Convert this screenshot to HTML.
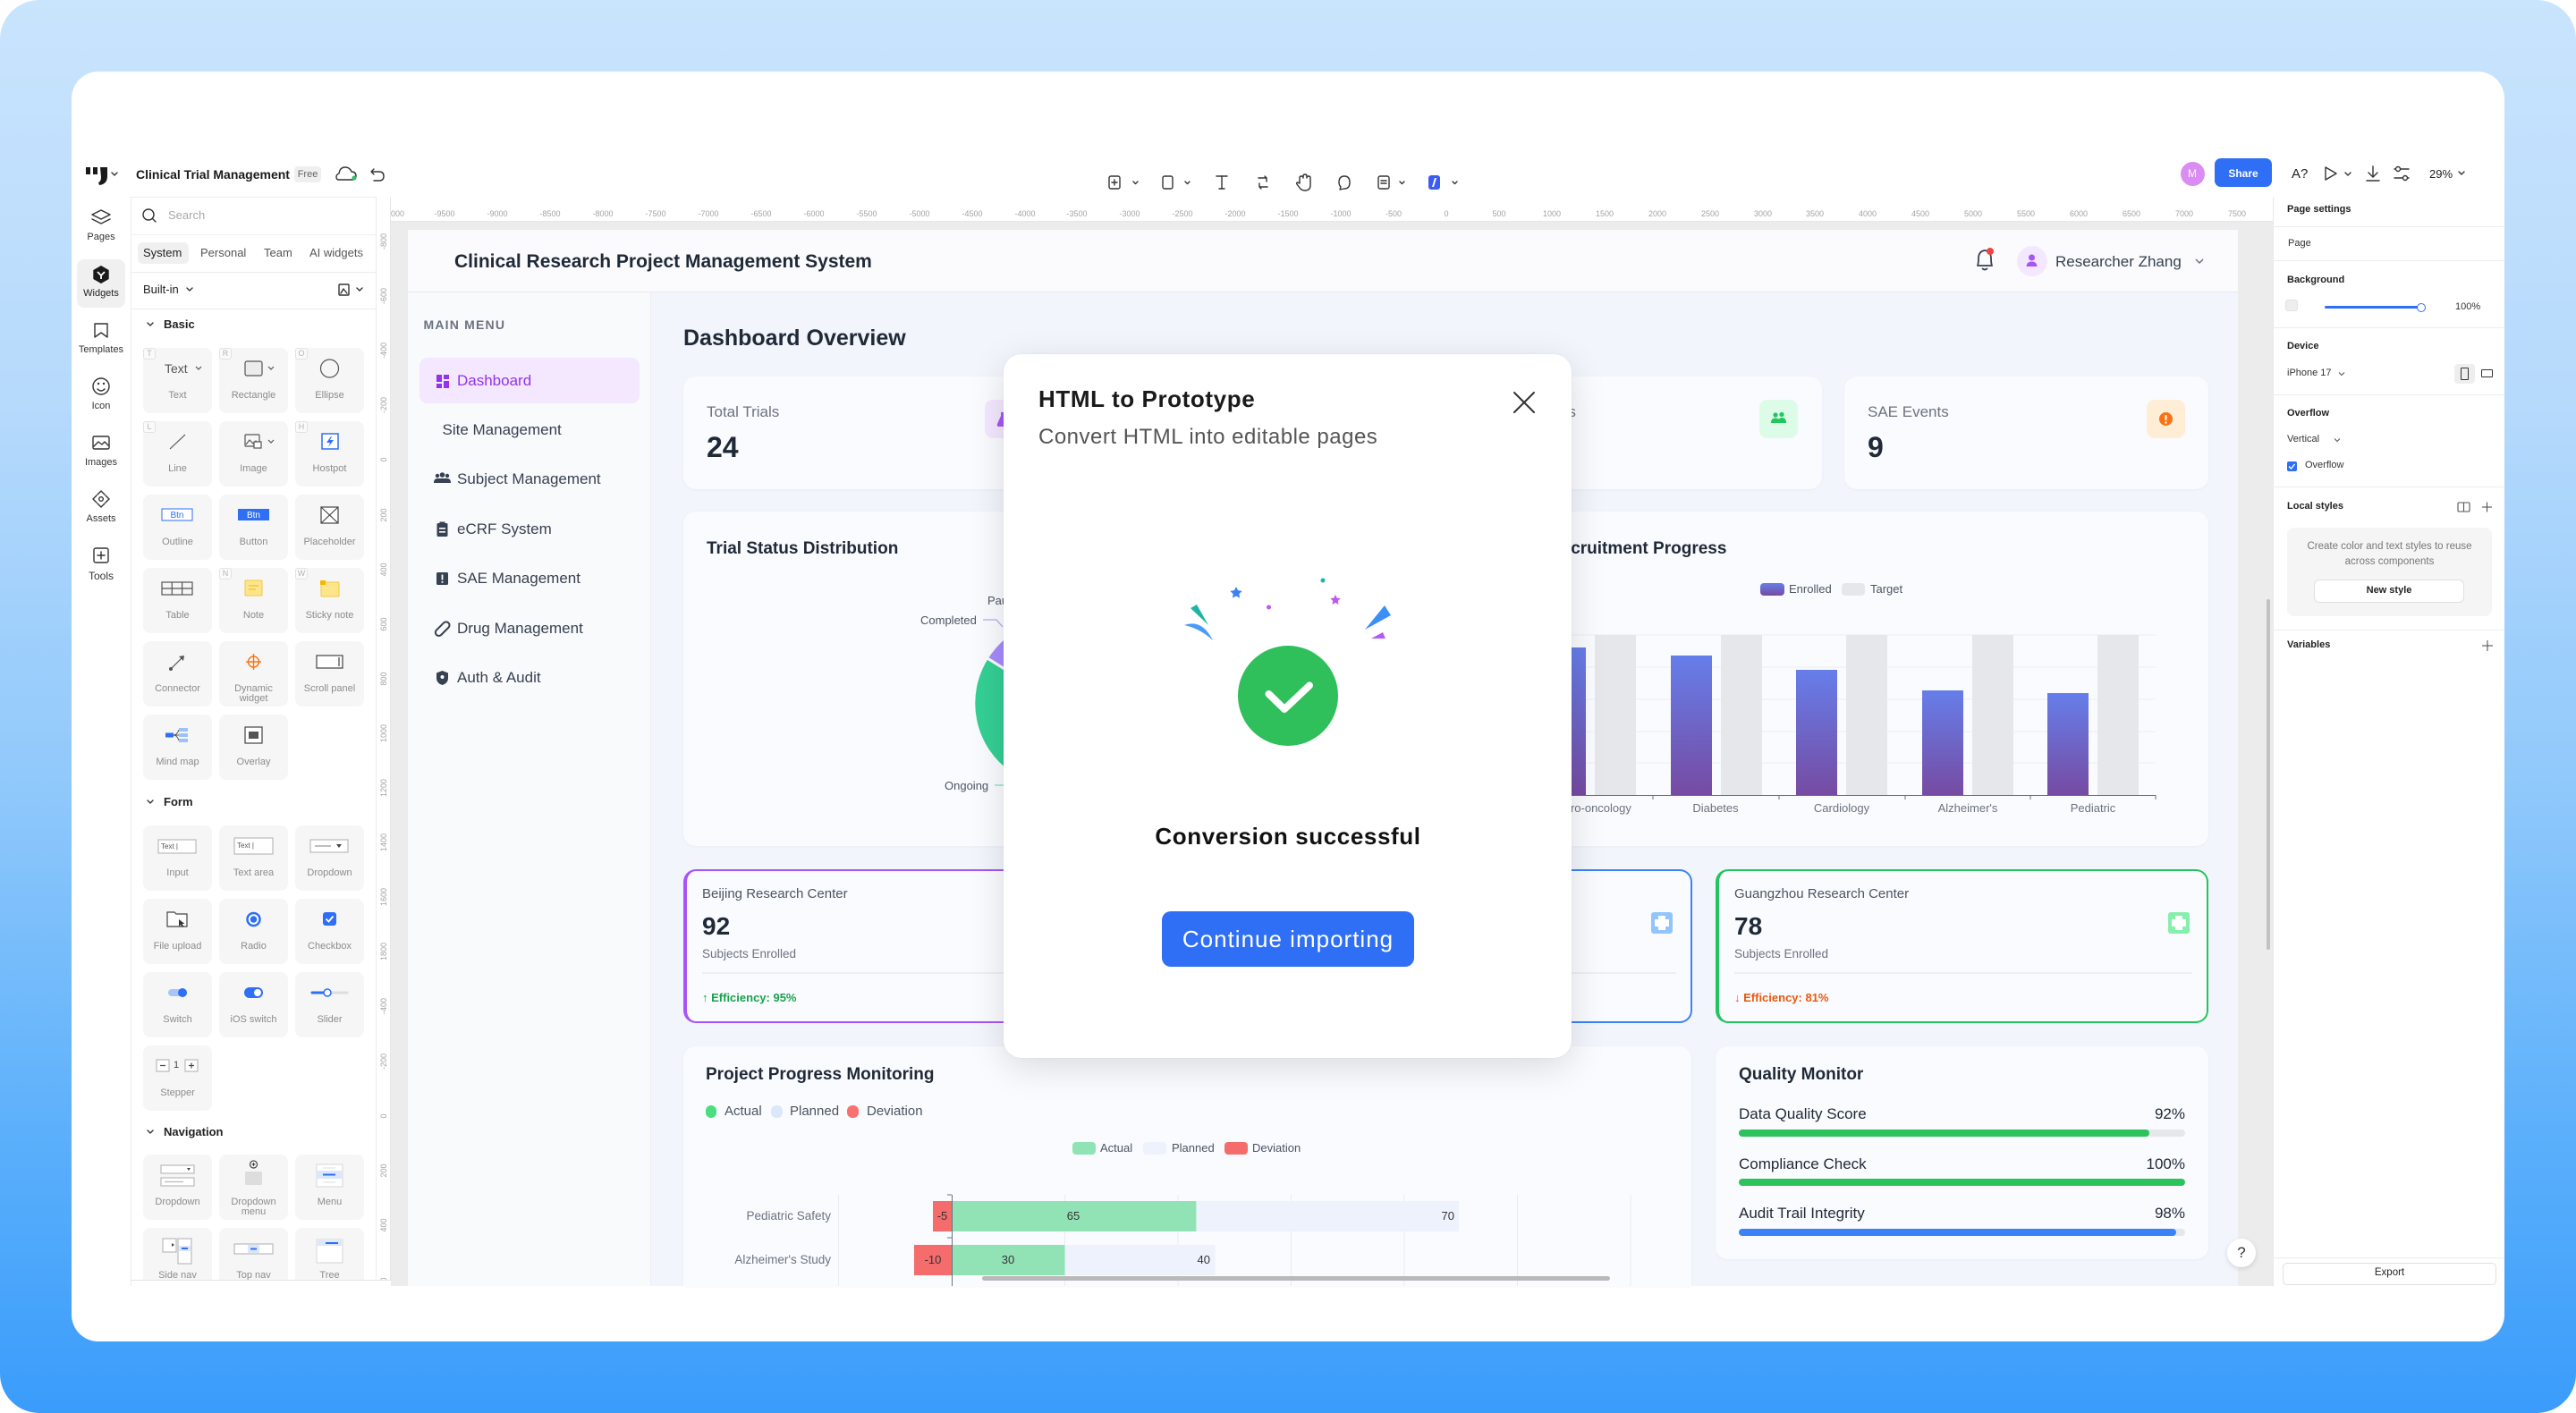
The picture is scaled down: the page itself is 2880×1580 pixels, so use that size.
<!DOCTYPE html>
<html><head><meta charset="utf-8">
<style>
*{box-sizing:border-box}
body{margin:0;background:#fff}
#r{position:relative;width:2880px;height:1580px;overflow:hidden;font-family:"Liberation Sans",Arial,sans-serif;color:#1f2937}
.a{position:absolute}
.t{position:absolute;white-space:nowrap;line-height:1}
.b{font-weight:700}
.card{position:absolute;background:#fafbfe;border-radius:14px;box-shadow:0 1px 3px rgba(30,40,90,0.04)}
.wc{position:absolute;width:77px;height:73px;background:#f6f6f6;border-radius:8px}
.wl{position:absolute;width:77px;text-align:center;font-size:11px;line-height:11px;color:#8c8c8c;white-space:nowrap}
.bd{position:absolute;width:14px;height:13px;border:1px solid #e2e2e2;border-radius:3px;background:#fafafa;font-size:9px;line-height:11px;text-align:center;color:#b5b5b5}
.rl{position:absolute;top:5px;width:50px;text-align:center;font-size:9px;line-height:9px;color:#a3a3a3}
.vl{position:absolute;left:-12px;width:40px;height:10px;line-height:10px;font-size:9px;color:#a3a3a3;text-align:center;transform:rotate(-90deg)}
.mi{font-size:17px;color:#374151}
.rp{font-size:11px;color:#333}
.rh{font-size:11px;font-weight:700;color:#222}
.hr{position:absolute;left:2541px;width:259px;height:1px;background:#ededed}
</style></head><body>
<div id="r">
<!-- background -->
<div class="a" style="left:0;top:0;width:2880px;height:1580px;border-radius:44px;background:linear-gradient(180deg,#c9e4fd 0%,#b6dafc 28%,#91c9fb 55%,#5cb0fb 80%,#3a9cfb 100%)"></div>
<div class="a" style="left:80px;top:80px;width:2720px;height:1420px;border-radius:30px;background:#fff"></div>

<!-- canvas -->
<div class="a" style="left:437px;top:230px;width:2104px;height:1208px;background:#ececec"></div>

<!-- artboard -->
<div class="a" style="left:456px;top:257px;width:2046px;height:1181px;background:#f2f5fc"></div>
<div class="a" style="left:456px;top:257px;width:2046px;height:70px;background:#fbfbfd;border-bottom:1.5px solid #e7e9ee"></div>
<div class="a" style="left:456px;top:327px;width:272px;height:1111px;background:#f9fafb;border-right:1.5px solid #eceef2"></div>

<!-- header -->
<div class="t b" style="left:508px;top:281.6px;font-size:21px;color:#1f2937">Clinical Research Project Management System</div>
<div class="t" style="left:2298px;top:283.7px;font-size:17px;color:#374151">Researcher Zhang</div>
<div class="a" style="left:2254.5px;top:275px;width:34px;height:34px;border-radius:50%;background:#f3e8ff"></div>

<!-- sidebar -->
<div class="t b" style="left:473.5px;top:355.7px;font-size:14px;letter-spacing:1.2px;color:#6b7280">MAIN MENU</div>
<div class="a" style="left:469px;top:400px;width:245.5px;height:51px;border-radius:9px;background:#f3e8ff"></div>
<div class="t" style="left:511px;top:417.2px;font-size:17px;color:#9333ea">Dashboard</div>
<div class="t mi" style="left:494.5px;top:472.2px">Site Management</div>
<div class="t mi" style="left:511px;top:527.2px">Subject Management</div>
<div class="t mi" style="left:511px;top:583.2px">eCRF System</div>
<div class="t mi" style="left:511px;top:638.2px">SAE Management</div>
<div class="t mi" style="left:511px;top:694.2px">Drug Management</div>
<div class="t mi" style="left:511px;top:749.2px">Auth &amp; Audit</div>

<!-- main -->
<div class="t b" style="left:764px;top:366px;font-size:25px;color:#1f2937">Dashboard Overview</div>

<div class="card" style="left:764px;top:421px;width:407px;height:126px"></div>
<div class="card" style="left:1197px;top:421px;width:407px;height:126px"></div>
<div class="card" style="left:1630px;top:421px;width:407px;height:126px"></div>
<div class="card" style="left:2062px;top:421px;width:407px;height:126px"></div>
<div class="t" style="left:790px;top:452.2px;font-size:17px;color:#6b7280">Total Trials</div>
<div class="t b" style="left:790px;top:484.4px;font-size:32px;color:#1f2937">24</div>
<div class="t" style="left:1223px;top:452.2px;font-size:17px;color:#6b7280">Active Sites</div>
<div class="t b" style="left:1223px;top:484.4px;font-size:32px;color:#1f2937">12</div>
<div class="t" style="left:1656px;top:452.2px;font-size:17px;color:#6b7280">Total Subjects</div>
<div class="t b" style="left:1656px;top:484.4px;font-size:32px;color:#1f2937">342</div>
<div class="t" style="left:2088px;top:452.2px;font-size:17px;color:#6b7280">SAE Events</div>
<div class="t b" style="left:2088px;top:484.4px;font-size:32px;color:#1f2937">9</div>
<div class="a" style="left:1101px;top:447px;width:43px;height:43px;border-radius:9px;background:#f3e8ff"></div>
<div class="a" style="left:1497px;top:447px;width:43px;height:43px;border-radius:9px;background:#dbeafe"></div>
<div class="a" style="left:1967px;top:447px;width:43px;height:43px;border-radius:9px;background:#dcfce7"></div>
<div class="a" style="left:2400px;top:447px;width:43px;height:43px;border-radius:9px;background:#ffedd5"></div>

<div class="card" style="left:764px;top:572px;width:839px;height:374px"></div>
<div class="card" style="left:1630px;top:572px;width:839px;height:374px"></div>
<div class="t b" style="left:790px;top:604.1px;font-size:19px;color:#1f2937">Trial Status Distribution</div>
<div class="t b" style="left:1658px;top:604.1px;font-size:19px;color:#1f2937">Subject Recruitment Progress</div>
<div class="t" style="left:2000px;top:652.2px;font-size:13px;color:#4b5563">Enrolled</div>
<div class="t" style="left:2091px;top:652.2px;font-size:13px;color:#4b5563">Target</div>
<div class="t" style="left:1718px;top:897.2px;width:120px;text-align:center;font-size:13px;color:#6b7280">Neuro-oncology</div>
<div class="t" style="left:1858px;top:897.2px;width:120px;text-align:center;font-size:13px;color:#6b7280">Diabetes</div>
<div class="t" style="left:1999px;top:897.2px;width:120px;text-align:center;font-size:13px;color:#6b7280">Cardiology</div>
<div class="t" style="left:2140px;top:897.2px;width:120px;text-align:center;font-size:13px;color:#6b7280">Alzheimer's</div>
<div class="t" style="left:2280px;top:897.2px;width:120px;text-align:center;font-size:13px;color:#6b7280">Pediatric</div>
<div class="t" style="left:1029px;top:687.2px;font-size:13px;color:#4b5563">Completed</div>
<div class="t" style="left:1104px;top:665.2px;font-size:13px;color:#4b5563">Paused</div>
<div class="t" style="left:1056px;top:872.2px;font-size:13px;color:#4b5563">Ongoing</div>

<!-- site cards -->
<div class="a" style="left:764px;top:972px;width:551px;height:172px;border-radius:14px;background:#fafbfe;border:2px solid #a855f7;border-left-width:4px"></div>
<div class="a" style="left:1341px;top:972px;width:551px;height:172px;border-radius:14px;background:#fafbfe;border:2px solid #3b82f6;border-left-width:4px"></div>
<div class="a" style="left:1918px;top:972px;width:551px;height:172px;border-radius:14px;background:#fafbfe;border:2px solid #22c55e;border-left-width:4px"></div>
<div class="t" style="left:785px;top:992.2px;font-size:15px;color:#4b5563">Beijing Research Center</div>
<div class="t b" style="left:785px;top:1022.4px;font-size:28px;color:#1f2937">92</div>
<div class="t" style="left:785px;top:1060px;font-size:13.5px;color:#6b7280">Subjects Enrolled</div>
<div class="a" style="left:785px;top:1087px;width:511px;height:2px;background:#eceef2"></div>
<div class="t b" style="left:785px;top:1109.2px;font-size:13px;color:#16a34a">↑ Efficiency: 95%</div>
<div class="t" style="left:1362px;top:992.2px;font-size:15px;color:#4b5563">Shanghai Research Center</div>
<div class="t b" style="left:1362px;top:1022.4px;font-size:28px;color:#1f2937">85</div>
<div class="t" style="left:1362px;top:1060px;font-size:13.5px;color:#6b7280">Subjects Enrolled</div>
<div class="a" style="left:1362px;top:1087px;width:512px;height:2px;background:#eceef2"></div>
<div class="t b" style="left:1362px;top:1109.2px;font-size:13px;color:#16a34a">↑ Efficiency: 88%</div>
<div class="t" style="left:1939px;top:992.2px;font-size:15px;color:#4b5563">Guangzhou Research Center</div>
<div class="t b" style="left:1939px;top:1022.4px;font-size:28px;color:#1f2937">78</div>
<div class="t" style="left:1939px;top:1060px;font-size:13.5px;color:#6b7280">Subjects Enrolled</div>
<div class="a" style="left:1939px;top:1087px;width:512px;height:2px;background:#eceef2"></div>
<div class="t b" style="left:1939px;top:1109.2px;font-size:13px;color:#ea580c">↓ Efficiency: 81%</div>
<div class="a" style="left:1268px;top:1020px;width:24px;height:24px;border-radius:3px;background:#d8b4fe"></div>
<div class="a" style="left:1846px;top:1020px;width:24px;height:24px;border-radius:3px;background:#93c5fd"></div>
<div class="a" style="left:2424px;top:1020px;width:24px;height:24px;border-radius:3px;background:#86efac"></div>
<div class="a" style="left:1854px;top:1024px;width:8px;height:16px;background:#fff"></div>
<div class="a" style="left:1850px;top:1028px;width:16px;height:8px;background:#fff"></div>
<div class="a" style="left:2432px;top:1024px;width:8px;height:16px;background:#fff"></div>
<div class="a" style="left:2428px;top:1028px;width:16px;height:8px;background:#fff"></div>

<!-- bottom cards -->
<div class="card" style="left:764px;top:1170px;width:1127px;height:268px;border-bottom-left-radius:0;border-bottom-right-radius:0"></div>
<div class="card" style="left:1918px;top:1170px;width:551px;height:238px"></div>
<div class="t b" style="left:789px;top:1192.1px;font-size:19px;color:#1f2937">Project Progress Monitoring</div>
<div class="a" style="left:788.5px;top:1236px;width:12.5px;height:14px;border-radius:6px;background:#4ade80"></div>
<div class="t" style="left:810px;top:1235.2px;font-size:15px;color:#4b5563">Actual</div>
<div class="a" style="left:862px;top:1236px;width:12.5px;height:14px;border-radius:6px;background:#dbe7fb"></div>
<div class="t" style="left:883px;top:1235.2px;font-size:15px;color:#4b5563">Planned</div>
<div class="a" style="left:947px;top:1236px;width:12.5px;height:14px;border-radius:6px;background:#f87171"></div>
<div class="t" style="left:969px;top:1235.2px;font-size:15px;color:#4b5563">Deviation</div>
<div class="a" style="left:1199px;top:1277px;width:26px;height:14px;border-radius:4px;background:#8fe3b5"></div>
<div class="t" style="left:1230px;top:1277.2px;font-size:13px;color:#4b5563">Actual</div>
<div class="a" style="left:1278px;top:1277px;width:26px;height:14px;border-radius:4px;background:#eef2fd"></div>
<div class="t" style="left:1310px;top:1277.2px;font-size:13px;color:#4b5563">Planned</div>
<div class="a" style="left:1369px;top:1277px;width:26px;height:14px;border-radius:4px;background:#f56c6c"></div>
<div class="t" style="left:1400px;top:1277.2px;font-size:13px;color:#4b5563">Deviation</div>

<div class="t b" style="left:1944px;top:1192.1px;font-size:19px;color:#1f2937">Quality Monitor</div>
<div class="t" style="left:1944px;top:1237.2px;font-size:17px;color:#1f2937">Data Quality Score</div>
<div class="t" style="left:2343px;top:1237.2px;width:100px;text-align:right;font-size:17px;color:#1f2937">92%</div>
<div class="a" style="left:1944px;top:1263px;width:499px;height:8px;border-radius:4px;background:#e5e7eb"></div>
<div class="a" style="left:1944px;top:1263px;width:459px;height:8px;border-radius:4px;background:#2cc25c"></div>
<div class="t" style="left:1944px;top:1293.2px;font-size:17px;color:#1f2937">Compliance Check</div>
<div class="t" style="left:2343px;top:1293.2px;width:100px;text-align:right;font-size:17px;color:#1f2937">100%</div>
<div class="a" style="left:1944px;top:1318px;width:499px;height:8px;border-radius:4px;background:#2cc25c"></div>
<div class="t" style="left:1944px;top:1348.2px;font-size:17px;color:#1f2937">Audit Trail Integrity</div>
<div class="t" style="left:2343px;top:1348.2px;width:100px;text-align:right;font-size:17px;color:#1f2937">98%</div>
<div class="a" style="left:1944px;top:1374px;width:499px;height:8px;border-radius:4px;background:#e5e7eb"></div>
<div class="a" style="left:1944px;top:1374px;width:489px;height:8px;border-radius:4px;background:#3b82f6"></div>

<!-- artboard graphics -->
<svg class="a" style="left:0;top:0" width="2880" height="1580" viewBox="0 0 2880 1580">
<defs><linearGradient id="eg" x1="0" y1="0" x2="0" y2="1"><stop offset="0" stop-color="#667eea"/><stop offset="1" stop-color="#764ba2"/></linearGradient></defs>
<path d="M2211,297 Q2212,294 2212,289 Q2212,281 2219,280 Q2226,281 2226,289 Q2226,294 2227,297 Z" fill="none" stroke="#374151" stroke-width="1.8" stroke-linejoin="round"/>
<path d="M2216,300 Q2219,303 2222,300" fill="none" stroke="#374151" stroke-width="1.8"/>
<circle cx="2225" cy="281" r="4" fill="#ef4444"/>
<circle cx="2271.5" cy="288" r="3.5" fill="#a855f7"/>
<path d="M2265.5,298 Q2266,292.5 2271.5,292.5 Q2277,292.5 2277.5,298 Z" fill="#a855f7"/>
<polyline points="2455,290 2459,294 2463,290" fill="none" stroke="#6b7280" stroke-width="1.5"/>
<rect x="488" y="419" width="6" height="8" fill="#9333ea"/><rect x="496" y="419" width="6" height="5" fill="#9333ea"/><rect x="488" y="429" width="6" height="5" fill="#9333ea"/><rect x="496" y="426" width="6" height="8" fill="#9333ea"/>
<circle cx="489" cy="532" r="2.2" fill="#374151"/><circle cx="494.5" cy="531" r="2.8" fill="#374151"/><circle cx="500" cy="532" r="2.2" fill="#374151"/>
<path d="M485,540 Q485,535 489,535 L500,535 Q504,535 504,540 Z" fill="#374151"/>
<rect x="488.5" y="585" width="12" height="15" rx="1.5" fill="#374151"/><rect x="491.5" y="583.5" width="6" height="3" fill="#374151"/><rect x="491" y="590" width="7" height="1.6" fill="#fff"/><rect x="491" y="594" width="7" height="1.6" fill="#fff"/>
<rect x="488" y="640" width="13" height="14" rx="1.5" fill="#374151"/><rect x="493.6" y="642.5" width="1.8" height="6" fill="#fff"/><rect x="493.6" y="650" width="1.8" height="1.8" fill="#fff"/>
<rect x="485" y="699.5" width="19" height="7.5" rx="3.75" transform="rotate(-45 494.5 703)" fill="none" stroke="#374151" stroke-width="2"/>
<path d="M494.5,750 L501,752.5 L501,758 Q501,764 494.5,766 Q488,764 488,758 L488,752.5 Z" fill="#374151"/><circle cx="494.5" cy="757" r="2" fill="#fff"/>
<path d="M1119,461 h7 v4 l4,9 q1,3 -2,3 h-11 q-3,0 -2,-3 l4,-9 z" fill="#a855f7"/>
<circle cx="1985" cy="464" r="2.6" fill="#22c55e"/><circle cx="1992" cy="463.5" r="2.6" fill="#22c55e"/>
<path d="M1980,473 Q1980,467.5 1985,467.5 Q1990,467.5 1990,473 Z M1988,473 Q1988,467 1992,467 Q1997,467 1997,473 Z" fill="#22c55e"/>
<path d="M1513,461 h13 v3 h-13 z M1515,465 h9 v11 h-9 z" fill="#3b82f6"/>
<circle cx="2421.5" cy="468.5" r="7.5" fill="#f97316"/><rect x="2420.5" y="464" width="2" height="6" fill="#fff"/><rect x="2420.5" y="471.5" width="2" height="2" fill="#fff"/>
<g stroke="#fafbfe" stroke-width="3" stroke-linejoin="round">
<path d="M1184,786 L1136.5,703.7 A95,95 0 0 1 1258.9,844.5 Z" fill="#60a5fa"/>
<path d="M1184,786 L1258.9,844.5 A95,95 0 0 1 1103.4,735.7 Z" fill="#34cf94"/>
<path d="M1184,786 L1103.4,735.7 A97,97 0 0 1 1122.9,713.2 Z" fill="#a78bfa"/>
<path d="M1184,786 L1122.9,713.2 A95,95 0 0 1 1136.5,703.7 Z" fill="#fbbf24"/>
</g>
<polyline points="1099,693 1114,693 1121,701" fill="none" stroke="#b8a6f6" stroke-width="1.3"/>
<polyline points="1112,878 1124,878" fill="none" stroke="#84e1b8" stroke-width="1.3"/>
<g stroke="#eceef3" stroke-width="1"><line x1="1707" y1="710" x2="2410" y2="710"/><line x1="1707" y1="746" x2="2410" y2="746"/><line x1="1707" y1="782" x2="2410" y2="782"/><line x1="1707" y1="818" x2="2410" y2="818"/><line x1="1707" y1="853" x2="2410" y2="853"/></g>
<rect x="1968" y="652" width="27" height="14" rx="4" fill="url(#eg)"/>
<rect x="2059" y="652" width="26" height="14" rx="4" fill="#e5e7eb"/>
<g fill="#e5e7eb"><rect x="1783" y="710" width="46" height="179"/><rect x="1924" y="710" width="46" height="179"/><rect x="2064" y="710" width="46" height="179"/><rect x="2205" y="710" width="46" height="179"/><rect x="2345" y="710" width="46" height="179"/></g>
<g fill="url(#eg)"><rect x="1727" y="724" width="46" height="165"/><rect x="1868" y="733" width="46" height="156"/><rect x="2008" y="749" width="46" height="140"/><rect x="2149" y="772" width="46" height="117"/><rect x="2289" y="775" width="46" height="114"/></g>
<g stroke="#6e7079" stroke-width="1"><line x1="1707" y1="889.5" x2="2410" y2="889.5"/><line x1="1707" y1="889" x2="1707" y2="894"/><line x1="1848" y1="889" x2="1848" y2="894"/><line x1="1989" y1="889" x2="1989" y2="894"/><line x1="2130" y1="889" x2="2130" y2="894"/><line x1="2270" y1="889" x2="2270" y2="894"/><line x1="2410" y1="889" x2="2410" y2="894"/></g>
<g stroke="#e9ebf0" stroke-width="1"><line x1="937.5" y1="1336" x2="937.5" y2="1438"/><line x1="1190.5" y1="1336" x2="1190.5" y2="1438"/><line x1="1317" y1="1336" x2="1317" y2="1438"/><line x1="1443.5" y1="1336" x2="1443.5" y2="1438"/><line x1="1570" y1="1336" x2="1570" y2="1438"/><line x1="1696.5" y1="1336" x2="1696.5" y2="1438"/><line x1="1823" y1="1336" x2="1823" y2="1438"/></g>
<rect x="1337.4" y="1343" width="293.6" height="34" fill="#eef2fc"/>
<rect x="1064" y="1343" width="273.4" height="34" fill="#91e3b5"/>
<rect x="1043" y="1343" width="21" height="34" fill="#f56c6c"/>
<rect x="1190.5" y="1392" width="168" height="34" fill="#eef2fc"/>
<rect x="1064" y="1392" width="126.5" height="34" fill="#91e3b5"/>
<rect x="1022" y="1392" width="42" height="34" fill="#f56c6c"/>
<g stroke="#6b7280" stroke-width="1"><line x1="1064.5" y1="1336" x2="1064.5" y2="1438"/><line x1="1059" y1="1336" x2="1064" y2="1336"/><line x1="1059" y1="1384" x2="1064" y2="1384"/></g>
</svg>
<div class="t" style="left:829px;top:1353px;width:100px;text-align:right;font-size:13.5px;color:#6b7280">Pediatric Safety</div>
<div class="t" style="left:809px;top:1402px;width:120px;text-align:right;font-size:13.5px;color:#6b7280">Alzheimer's Study</div>
<div class="t" style="left:1033px;top:1353.2px;width:41px;text-align:center;font-size:13px;color:#333">-5</div>
<div class="t" style="left:1170px;top:1353.2px;width:60px;text-align:center;font-size:13px;color:#333">65</div>
<div class="t" style="left:1566px;top:1353.2px;width:60px;text-align:right;font-size:13px;color:#333">70</div>
<div class="t" style="left:1022px;top:1402.2px;width:42px;text-align:center;font-size:13px;color:#333">-10</div>
<div class="t" style="left:1097px;top:1402.2px;width:60px;text-align:center;font-size:13px;color:#333">30</div>
<div class="t" style="left:1293px;top:1402.2px;width:60px;text-align:right;font-size:13px;color:#333">40</div>

<!-- scrollbars & help -->
<div class="a" style="left:1098px;top:1427px;width:702px;height:5px;border-radius:3px;background:#b9b9b9"></div>
<div class="a" style="left:2534px;top:670px;width:4px;height:392px;border-radius:2px;background:#c2c2c2"></div>
<div class="a" style="left:2490px;top:1385px;width:32px;height:32px;border-radius:50%;background:#fff;box-shadow:0 2px 6px rgba(0,0,0,0.12)"></div>
<div class="t" style="left:2490px;top:1392px;width:32px;text-align:center;font-size:17px;color:#333">?</div>

<!-- modal -->
<div class="a" style="left:1122px;top:396px;width:635px;height:787px;background:#fff;border-radius:20px;box-shadow:0 10px 40px rgba(0,0,0,0.13),0 0 0 1px rgba(0,0,0,0.02)"></div>
<div class="t b" style="left:1161px;top:432.5px;font-size:26px;letter-spacing:0.6px;color:#1a1a1a">HTML to Prototype</div>
<div class="t" style="left:1161px;top:477px;font-size:24px;letter-spacing:0.5px;color:#555">Convert HTML into editable pages</div>
<div class="t b" style="left:1240px;top:921.5px;width:400px;text-align:center;font-size:26px;letter-spacing:0.6px;color:#111">Conversion successful</div>
<div class="a" style="left:1299px;top:1019px;width:282px;height:62px;border-radius:10px;background:#2f6ff6"></div>
<div class="t" style="left:1299px;top:1036.5px;width:282px;text-align:center;font-size:26px;letter-spacing:1px;color:#fff">Continue importing</div>
<svg class="a" style="left:0;top:0" width="2880" height="1580" viewBox="0 0 2880 1580">
<g stroke="#333" stroke-width="2" stroke-linecap="round"><line x1="1693" y1="439" x2="1715" y2="461"/><line x1="1715" y1="439" x2="1693" y2="461"/></g>
<circle cx="1440" cy="778" r="56" fill="#2fbf5b"/>
<polyline points="1418.5,776 1436,793 1464,766.5" fill="none" stroke="#fff" stroke-width="8" stroke-linecap="round" stroke-linejoin="round"/>
<polygon points="1382,656 1384.06,660.17 1388.66,660.84 1385.33,664.08 1386.11,668.66 1382,666.5 1377.89,668.66 1378.67,664.08 1375.34,660.84 1379.94,660.17" fill="#3b82f6"/>
<polygon points="1493,665 1494.76,668.57 1498.71,669.15 1495.85,671.93 1496.53,675.85 1493,674 1489.47,675.85 1490.15,671.93 1487.29,669.15 1491.24,668.57" fill="#c058f0"/>
<circle cx="1479" cy="649" r="2.5" fill="#14b8a6"/>
<circle cx="1418.5" cy="679" r="2.5" fill="#c058f0"/>
<polygon points="1331,680 1338,676 1351,699" fill="#1fb5a6"/>
<path d="M1324,699 Q1344,692 1356,716 Q1342,703 1324,699 Z" fill="#4a9af7"/>
<polygon points="1526,704 1548,677 1555,688" fill="#3b8ff5"/>
<polygon points="1533,714 1546,707 1549,714" fill="#b55af0"/>
</svg>

<!-- top ruler -->
<div class="a" style="left:437px;top:230px;width:2104px;height:18px;background:#fff;border-bottom:1px solid #e6e6e6;overflow:hidden">
<div class="rl" style="left:-24px">-10000</div><div class="rl" style="left:35px">-9500</div><div class="rl" style="left:94px">-9000</div><div class="rl" style="left:153px">-8500</div><div class="rl" style="left:212px">-8000</div><div class="rl" style="left:271px">-7500</div><div class="rl" style="left:330px">-7000</div><div class="rl" style="left:389px">-6500</div><div class="rl" style="left:448px">-6000</div><div class="rl" style="left:507px">-5500</div><div class="rl" style="left:566px">-5000</div><div class="rl" style="left:625px">-4500</div><div class="rl" style="left:684px">-4000</div><div class="rl" style="left:742px">-3500</div><div class="rl" style="left:801px">-3000</div><div class="rl" style="left:860px">-2500</div><div class="rl" style="left:919px">-2000</div><div class="rl" style="left:978px">-1500</div><div class="rl" style="left:1037px">-1000</div><div class="rl" style="left:1096px">-500</div><div class="rl" style="left:1155px">0</div><div class="rl" style="left:1214px">500</div><div class="rl" style="left:1273px">1000</div><div class="rl" style="left:1332px">1500</div><div class="rl" style="left:1391px">2000</div><div class="rl" style="left:1450px">2500</div><div class="rl" style="left:1509px">3000</div><div class="rl" style="left:1567px">3500</div><div class="rl" style="left:1626px">4000</div><div class="rl" style="left:1685px">4500</div><div class="rl" style="left:1744px">5000</div><div class="rl" style="left:1803px">5500</div><div class="rl" style="left:1862px">6000</div><div class="rl" style="left:1921px">6500</div><div class="rl" style="left:1980px">7000</div><div class="rl" style="left:2039px">7500</div>
</div>
<!-- left ruler -->
<div class="a" style="left:421px;top:220px;width:16px;height:28px;background:#fff;border-right:1px solid #e6e6e6"></div>
<div class="a" style="left:421px;top:248px;width:16px;height:1190px;background:#fff;border-right:1px solid #e6e6e6;overflow:hidden">
<div class="vl" style="top:17px">-800</div><div class="vl" style="top:78px">-600</div><div class="vl" style="top:139px">-400</div><div class="vl" style="top:200px">-200</div><div class="vl" style="top:261px">0</div><div class="vl" style="top:323px">200</div><div class="vl" style="top:384px">400</div><div class="vl" style="top:445px">600</div><div class="vl" style="top:506px">800</div><div class="vl" style="top:567px">1000</div><div class="vl" style="top:628px">1200</div><div class="vl" style="top:689px">1400</div><div class="vl" style="top:750px">1600</div><div class="vl" style="top:811px">1800</div><div class="vl" style="top:872px">-400</div><div class="vl" style="top:934px">-200</div><div class="vl" style="top:995px">0</div><div class="vl" style="top:1056px">200</div><div class="vl" style="top:1117px">400</div><div class="vl" style="top:1178px">0</div>
</div>

<!-- left rail & widget panel -->
<div class="a" style="left:146px;top:220px;width:275px;height:1px;background:#ececec"></div>
<div class="a" style="left:146px;top:220px;width:1px;height:1218px;background:#ececec"></div>
<div class="a" style="left:420px;top:220px;width:1px;height:1210px;background:#ececec"></div>
<div class="a" style="left:86px;top:290px;width:54px;height:54px;border-radius:8px;background:#f0f0f0"></div>
<div class="t" style="left:80px;top:260.3px;width:66px;text-align:center;font-size:11px;color:#333">Pages</div>
<div class="t" style="left:80px;top:323.3px;width:66px;text-align:center;font-size:11px;color:#222">Widgets</div>
<div class="t" style="left:80px;top:386.3px;width:66px;text-align:center;font-size:11px;color:#333">Templates</div>
<div class="t" style="left:80px;top:449.3px;width:66px;text-align:center;font-size:11px;color:#333">Icon</div>
<div class="t" style="left:80px;top:512.3px;width:66px;text-align:center;font-size:11px;color:#333">Images</div>
<div class="t" style="left:80px;top:575.3px;width:66px;text-align:center;font-size:11px;color:#333">Assets</div>
<div class="t" style="left:80px;top:638.3px;width:66px;text-align:center;font-size:12px;color:#333">Tools</div>

<div class="t" style="left:188px;top:234.2px;font-size:13px;color:#aaa">Search</div>
<div class="a" style="left:146px;top:262px;width:274px;height:1px;background:#f0f0f0"></div>
<div class="a" style="left:154px;top:271px;width:57px;height:24px;border-radius:5px;background:#f0f0f0"></div>
<div class="t" style="left:160px;top:276.2px;font-size:13px;color:#222">System</div>
<div class="t" style="left:224px;top:276.2px;font-size:13px;color:#555">Personal</div>
<div class="t" style="left:295px;top:276.2px;font-size:13px;color:#555">Team</div>
<div class="t" style="left:346px;top:276.2px;font-size:13px;color:#555">AI widgets</div>
<div class="a" style="left:146px;top:304px;width:274px;height:1px;background:#ececec"></div>
<div class="t" style="left:160px;top:317.2px;font-size:13px;color:#222">Built-in</div>
<div class="a" style="left:146px;top:345px;width:274px;height:1px;background:#ececec"></div>
<div class="t b" style="left:183px;top:356.2px;font-size:13px;color:#222">Basic</div>
<div class="t b" style="left:183px;top:890.2px;font-size:13px;color:#222">Form</div>
<div class="t b" style="left:183px;top:1259.2px;font-size:13px;color:#222">Navigation</div>

<!-- widget cards -->
<div class="wc" style="left:160px;top:389px"></div><div class="wc" style="left:245px;top:389px"></div><div class="wc" style="left:330px;top:389px"></div>
<div class="wc" style="left:160px;top:471px"></div><div class="wc" style="left:245px;top:471px"></div><div class="wc" style="left:330px;top:471px"></div>
<div class="wc" style="left:160px;top:553px"></div><div class="wc" style="left:245px;top:553px"></div><div class="wc" style="left:330px;top:553px"></div>
<div class="wc" style="left:160px;top:635px"></div><div class="wc" style="left:245px;top:635px"></div><div class="wc" style="left:330px;top:635px"></div>
<div class="wc" style="left:160px;top:717px"></div><div class="wc" style="left:245px;top:717px"></div><div class="wc" style="left:330px;top:717px"></div>
<div class="wc" style="left:160px;top:799px"></div><div class="wc" style="left:245px;top:799px"></div>
<div class="wc" style="left:160px;top:923px"></div><div class="wc" style="left:245px;top:923px"></div><div class="wc" style="left:330px;top:923px"></div>
<div class="wc" style="left:160px;top:1005px"></div><div class="wc" style="left:245px;top:1005px"></div><div class="wc" style="left:330px;top:1005px"></div>
<div class="wc" style="left:160px;top:1087px"></div><div class="wc" style="left:245px;top:1087px"></div><div class="wc" style="left:330px;top:1087px"></div>
<div class="wc" style="left:160px;top:1169px"></div>
<div class="wc" style="left:160px;top:1291px"></div><div class="wc" style="left:245px;top:1291px"></div><div class="wc" style="left:330px;top:1291px"></div>
<div class="wc" style="left:160px;top:1373px"></div><div class="wc" style="left:245px;top:1373px"></div><div class="wc" style="left:330px;top:1373px"></div>

<div class="bd" style="left:160px;top:389px">T</div><div class="bd" style="left:245px;top:389px">R</div><div class="bd" style="left:330px;top:389px">O</div>
<div class="bd" style="left:160px;top:471px">L</div><div class="bd" style="left:330px;top:471px">H</div>
<div class="bd" style="left:245px;top:635px">N</div><div class="bd" style="left:330px;top:635px">W</div>

<div class="wl" style="left:160px;top:437.3px">Text</div><div class="wl" style="left:245px;top:437.3px">Rectangle</div><div class="wl" style="left:330px;top:437.3px">Ellipse</div>
<div class="wl" style="left:160px;top:519.3px">Line</div><div class="wl" style="left:245px;top:519.3px">Image</div><div class="wl" style="left:330px;top:519.3px">Hostpot</div>
<div class="wl" style="left:160px;top:601.3px">Outline</div><div class="wl" style="left:245px;top:601.3px">Button</div><div class="wl" style="left:330px;top:601.3px">Placeholder</div>
<div class="wl" style="left:160px;top:683.3px">Table</div><div class="wl" style="left:245px;top:683.3px">Note</div><div class="wl" style="left:330px;top:683.3px">Sticky note</div>
<div class="wl" style="left:160px;top:765.3px">Connector</div><div class="wl" style="left:245px;top:765.3px">Dynamic<br>widget</div><div class="wl" style="left:330px;top:765.3px">Scroll panel</div>
<div class="wl" style="left:160px;top:847.3px">Mind map</div><div class="wl" style="left:245px;top:847.3px">Overlay</div>
<div class="wl" style="left:160px;top:971.3px">Input</div><div class="wl" style="left:245px;top:971.3px">Text area</div><div class="wl" style="left:330px;top:971.3px">Dropdown</div>
<div class="wl" style="left:160px;top:1053.3px">File upload</div><div class="wl" style="left:245px;top:1053.3px">Radio</div><div class="wl" style="left:330px;top:1053.3px">Checkbox</div>
<div class="wl" style="left:160px;top:1135.3px">Switch</div><div class="wl" style="left:245px;top:1135.3px">iOS switch</div><div class="wl" style="left:330px;top:1135.3px">Slider</div>
<div class="wl" style="left:160px;top:1217.3px">Stepper</div>
<div class="wl" style="left:160px;top:1339.3px">Dropdown</div><div class="wl" style="left:245px;top:1339.3px">Dropdown<br>menu</div><div class="wl" style="left:330px;top:1339.3px">Menu</div>
<div class="wl" style="left:160px;top:1421.3px">Side nav</div><div class="wl" style="left:245px;top:1421.3px">Top nav</div><div class="wl" style="left:330px;top:1421.3px">Tree</div>

<div class="t" style="left:184px;top:404.7px;font-size:14px;color:#555">Text</div>
<div class="t" style="left:194px;top:1186px;font-size:11px;color:#444">1</div>

<!-- top toolbar text -->
<div class="t b" style="left:152px;top:187.7px;font-size:14px;color:#1a1a1a">Clinical Trial Management</div>
<div class="a" style="left:329px;top:186px;width:30px;height:18px;border-radius:4px;background:#efefef"></div>
<div class="t" style="left:329px;top:189.5px;width:30px;text-align:center;font-size:11px;color:#666">Free</div>
<div class="a" style="left:2437.5px;top:180.5px;width:27px;height:27px;border-radius:50%;background:#d98cf2"></div>
<div class="t" style="left:2437.5px;top:188px;width:27px;text-align:center;font-size:12px;color:#fff">M</div>
<div class="a" style="left:2476px;top:177px;width:64px;height:32px;border-radius:7px;background:#2f6ff6"></div>
<div class="t b" style="left:2476px;top:187.5px;width:64px;text-align:center;font-size:12px;color:#fff">Share</div>
<div class="t" style="left:2562px;top:186.5px;font-size:15px;color:#222">A?</div>
<div class="t" style="left:2716px;top:187.5px;font-size:13px;color:#222">29%</div>

<!-- right panel -->
<div class="a" style="left:2541px;top:220px;width:1px;height:1218px;background:#e8e8e8"></div>
<div class="t rh" style="left:2557px;top:229.3px">Page settings</div>
<div class="hr" style="top:253px"></div>
<div class="t rp" style="left:2558px;top:266.9px">Page</div>
<div class="hr" style="top:291px"></div>
<div class="t rh" style="left:2557px;top:307.8px">Background</div>
<div class="a" style="left:2555px;top:335px;width:14px;height:13px;border-radius:3px;background:#eee;border:1px solid #e2e2e2"></div>
<div class="a" style="left:2599px;top:342px;width:108px;height:3px;border-radius:2px;background:#2f6ff5"></div>
<div class="a" style="left:2702px;top:338.5px;width:10px;height:10px;border-radius:50%;background:#fff;border:1.5px solid #2f6ff5"></div>
<div class="t rp" style="left:2745px;top:338.3px">100%</div>
<div class="hr" style="top:366px"></div>
<div class="t rh" style="left:2557px;top:382.3px">Device</div>
<div class="t rp" style="left:2557px;top:412.3px">iPhone 17</div>
<div class="a" style="left:2744px;top:407px;width:23px;height:22px;border-radius:4px;background:#eee"></div>
<div class="a" style="left:2751px;top:411px;width:9px;height:14px;border:1.3px solid #333;border-radius:1px"></div>
<div class="a" style="left:2774px;top:413px;width:13px;height:9px;border:1.3px solid #333;border-radius:1px"></div>
<div class="hr" style="top:441px"></div>
<div class="t rh" style="left:2557px;top:457.3px">Overflow</div>
<div class="t rp" style="left:2557px;top:486.3px">Vertical</div>
<div class="a" style="left:2557px;top:516px;width:11px;height:11px;border-radius:2px;background:#2f6ff5"></div>
<div class="t rp" style="left:2577px;top:515.3px">Overflow</div>
<div class="hr" style="top:544px"></div>
<div class="t rh" style="left:2557px;top:561.3px">Local styles</div>
<div class="a" style="left:2557px;top:590px;width:229px;height:99px;border-radius:8px;background:#f5f5f5"></div>
<div class="t" style="left:2557px;top:606px;width:229px;text-align:center;font-size:11.5px;color:#777">Create color and text styles to reuse</div>
<div class="t" style="left:2557px;top:622.5px;width:229px;text-align:center;font-size:11.5px;color:#777">across components</div>
<div class="a" style="left:2587px;top:648px;width:168px;height:26px;border-radius:6px;background:#fff;border:1px solid #e0e0e0"></div>
<div class="t b" style="left:2587px;top:655px;width:168px;text-align:center;font-size:11px;color:#222">New style</div>
<div class="hr" style="top:704px"></div>
<div class="t rh" style="left:2557px;top:716.3px">Variables</div>
<div class="hr" style="top:1406px"></div>
<div class="a" style="left:2552px;top:1412px;width:239px;height:25px;border-radius:5px;background:#fff;border:1px solid #e0e0e0"></div>
<div class="t" style="left:2552px;top:1418px;width:239px;text-align:center;font-size:11.5px;color:#222">Export</div>

<!-- chrome icons -->
<svg class="a" style="left:0;top:0" width="2880" height="1580" viewBox="0 0 2880 1580">
<g fill="#1a1a1a"><rect x="96" y="187" width="5" height="8"/><rect x="104" y="187" width="5" height="8"/><path d="M112,187 h8 v10 q0,9 -9,10 l-1,-3 q3,-1 3,-6 z"/></g>
<g fill="none" stroke="#333" stroke-width="1.4" stroke-linecap="round" stroke-linejoin="round">
<polyline points="125,193 128,196 131,193"/>
<path d="M379,201 h15 q4,0 4,-4 q0,-5 -5,-5 q-2,-5 -7,-5 q-6,0 -7,7 q-3,1 -3,4 q0,3 3,3"/>
<path d="M418,189 l-3,3 3,3 M415,192 h9 q5,0 5,5 q0,5 -5,5 h-6"/>
<rect x="1240" y="197" width="12" height="14" rx="2"/><line x1="1246" y1="201" x2="1246" y2="207"/><line x1="1243" y1="204" x2="1249" y2="204"/>
<polyline points="1267,203 1269.5,205.5 1272,203"/>
<rect x="1300" y="197" width="11" height="14" rx="2"/><polyline points="1325,203 1327.5,205.5 1330,203"/>
<line x1="1360" y1="197" x2="1372" y2="197"/><line x1="1366" y1="197" x2="1366" y2="211"/><line x1="1363" y1="211" x2="1369" y2="211"/>
<path d="M1407,199 h9 l-2,-2 M1417,209 h-9 l2,2 M1416,199 v4 M1408,209 v-4"/>
<path d="M1453,205 v-6 q0,-2 2,-2 q2,0 2,2 v-2 q0,-2 2,-2 q2,0 2,2 v2 q0,-2 2,-2 q2,0 2,2 v8 q0,6 -6,6 q-4,0 -6,-3 l-3,-4 q-1,-2 1,-2 z"/>
<path d="M1497,204 q0,-7 6,-7 q6,0 6,7 q0,7 -6,7 l-5,1 1,-3 q-2,-2 -2,-5 z"/>
<rect x="1541" y="197" width="12" height="14" rx="2"/><line x1="1544" y1="202" x2="1550" y2="202"/><line x1="1544" y1="205" x2="1550" y2="205"/><polyline points="1565,203 1567.5,205.5 1570,203"/>
<polyline points="1624,203 1626.5,205.5 1629,203"/>
<path d="M2600,187 l12,7 -12,7 z"/><polyline points="2622,193 2625,196 2628,193"/>
<line x1="2653" y1="186" x2="2653" y2="198"/><polyline points="2648,193 2653,198 2658,193"/><line x1="2646" y1="202" x2="2660" y2="202"/>
<line x1="2677" y1="189" x2="2693" y2="189"/><line x1="2677" y1="199" x2="2693" y2="199"/><circle cx="2681" cy="189" r="2.5" fill="#fff"/><circle cx="2689" cy="199" r="2.5" fill="#fff"/>
<polyline points="2749,192 2752,195 2755,192"/>
<path d="M103,240 L113,235 L123,240 L113,245 Z M103,245 L113,250 L123,245"/>
<path d="M106,362 H120 V377 L113,372 L106,377 Z"/>
<circle cx="113" cy="432" r="9"/><path d="M109,435 q4,4 8,0"/>
<rect x="104" y="488" width="18" height="14" rx="1.5"/><polyline points="105,499 110,494 114,497 117,494 121,498"/>
<polyline points="108,554 104,558 108,562"/><polyline points="118,554 122,558 118,562"/><polyline points="109,553 113,549 117,553"/><polyline points="109,563 113,567 117,563"/><circle cx="113" cy="558" r="2.3"/>
<rect x="105" y="613" width="16" height="16" rx="2"/><line x1="113" y1="617" x2="113" y2="625"/><line x1="109" y1="621" x2="117" y2="621"/>
<circle cx="166" cy="240" r="6"/><line x1="170.5" y1="244.5" x2="174" y2="248"/>
<polyline points="209,322 212,325 215,322"/>
<rect x="379" y="318" width="11" height="12" rx="1"/><polyline points="381,328 384,323 388,328"/>
<polyline points="399,322 402,325 405,322"/>
<polyline points="165,361 168,364 171,361"/><polyline points="165,895 168,898 171,895"/><polyline points="165,1264 168,1267 171,1264"/>
</g>
<line x1="403" y1="277" x2="403" y2="290" stroke="#ddd"/>
<g fill="#333"><circle cx="110" cy="429" r="1.2"/><circle cx="116" cy="429" r="1.2"/></g>
<polygon points="113,297 121.7,302 121.7,312 113,317 104.3,312 104.3,302" fill="#1a1a1a"/>
<g stroke="#fff" stroke-width="1.8" fill="none"><polyline points="109,304 113,308 117,304"/><line x1="113" y1="308" x2="113" y2="312"/></g>
<g fill="none" stroke="#555" stroke-width="1.2">
<polyline points="219,410 222,413 225,410"/>
<rect x="274" y="404" width="19" height="16" rx="2" fill="#ececec"/><polyline points="300,410 303,413 306,410"/>
<circle cx="368.5" cy="412" r="10"/>
<line x1="190" y1="502" x2="207" y2="486"/>
<rect x="274" y="486" width="16" height="13" rx="1"/><polyline points="275,497 279,492 283,496 286,493 289,497"/><rect x="284" y="494" width="8" height="7" fill="#fff"/><polyline points="300,492 303,495 306,492"/>
<rect x="359" y="567" width="19" height="18" fill="#fff" stroke="#444"/><line x1="359" y1="567" x2="378" y2="585" stroke="#444"/><line x1="378" y1="567" x2="359" y2="585" stroke="#444"/>
<rect x="181" y="651" width="34" height="14"/><line x1="181" y1="658" x2="215" y2="658"/><line x1="192.3" y1="651" x2="192.3" y2="665"/><line x1="203.6" y1="651" x2="203.6" y2="665"/>
<line x1="191" y1="748" x2="205" y2="734"/>
<rect x="354" y="733" width="29" height="14" fill="#fff" stroke="#444"/><line x1="379" y1="735" x2="379" y2="745" stroke="#444"/>
<rect x="274" y="813" width="19" height="18" fill="#fff" stroke="#444"/>
<rect x="177" y="939" width="42" height="15" fill="#fff" stroke="#bbb"/>
<rect x="262" y="937" width="43" height="18" fill="#fff" stroke="#bbb"/>
<rect x="347" y="939" width="42" height="14" fill="#fff" stroke="#bbb"/><line x1="352" y1="946" x2="370" y2="946" stroke="#999"/>
<path d="M187,1020 h8 l2,2 h12 v14 h-22 z" fill="#fff" stroke="#444"/>
<rect x="175" y="1185" width="14" height="13" fill="#fff" stroke="#bbb"/><line x1="179" y1="1191.5" x2="185" y2="1191.5" stroke="#444"/>
<rect x="207" y="1185" width="14" height="13" fill="#fff" stroke="#bbb"/><line x1="211" y1="1191.5" x2="217" y2="1191.5" stroke="#444"/><line x1="214" y1="1188.5" x2="214" y2="1194.5" stroke="#444"/>
<rect x="180" y="1303" width="37" height="9" fill="#fff" stroke="#bbb"/><rect x="180" y="1317" width="37" height="9" fill="#fff" stroke="#bbb"/><line x1="184" y1="1321.5" x2="205" y2="1321.5" stroke="#bbb"/>
<circle cx="283.5" cy="1302" r="4" fill="#fff" stroke="#444"/><line x1="283.5" y1="1300" x2="283.5" y2="1304" stroke="#444"/><line x1="281.5" y1="1302" x2="285.5" y2="1302" stroke="#444"/>
<rect x="354" y="1302" width="29" height="25" fill="#fff" stroke="#ddd"/>
<rect x="182" y="1385" width="15" height="15" fill="#fff" stroke="#bbb"/><rect x="199" y="1385" width="15" height="28" fill="#fff" stroke="#bbb"/>
<rect x="262" y="1391" width="43" height="11" fill="#fff" stroke="#bbb"/>
<rect x="354" y="1386" width="29" height="26" fill="#fff" stroke="#ddd"/>
</g>
<path d="M206,733 l-6,1 l5,5 z" fill="#555"/><circle cx="191" cy="748" r="2" fill="#555"/>
<rect x="360" y="485" width="18" height="17" fill="#fff" stroke="#2f6ff5" stroke-width="1.5"/>
<polygon points="370,488 365,495 369,495 367,500 373,492 369,492 371,488" fill="#2f6ff5"/>
<rect x="181" y="569" width="34" height="13" fill="#fff" stroke="#2f6ff5"/>
<rect x="266" y="569" width="35" height="13" fill="#2f6ff5"/>
<rect x="274" y="649" width="19" height="17" rx="1" fill="#fde68a" stroke="#f4c542"/><line x1="278" y1="655" x2="289" y2="655" stroke="#f0b429"/><line x1="278" y1="659" x2="286" y2="659" stroke="#f0b429"/>
<rect x="359" y="651" width="20" height="16" rx="1" fill="#fde68a" stroke="#f4c542"/><rect x="358" y="649" width="6" height="5" fill="#f5b700"/>
<g fill="none" stroke="#f97316" stroke-width="1.4"><circle cx="283.5" cy="740" r="6"/><line x1="275" y1="740" x2="292" y2="740"/><line x1="283.5" y1="731" x2="283.5" y2="749"/></g>
<rect x="185" y="819.5" width="9" height="5" fill="#2f6ff5"/>
<g stroke="#555" stroke-width="1" fill="none"><path d="M194,822 q4,0 6,-6 M194,822 h6 M194,822 q4,0 6,6"/></g>
<rect x="200" y="814" width="10" height="4" fill="#9cc1fb"/><rect x="200" y="820" width="10" height="4" fill="#9cc1fb"/><rect x="200" y="826" width="10" height="4" fill="#9cc1fb"/>
<rect x="278" y="818" width="11" height="8" fill="#555"/>
<polygon points="376,944 382,944 379,948" fill="#444"/>
<path d="M200,1028 l0,8 l2,-2 l2,3 l1.5,-1 l-2,-3 l3,0 z" fill="#333"/>
<circle cx="283.5" cy="1028" r="7" fill="#fff" stroke="#2f6ff5" stroke-width="2.5"/><circle cx="283.5" cy="1028" r="3.8" fill="#2f6ff5"/>
<rect x="361" y="1020" width="15" height="15" rx="3" fill="#2f6ff5"/><polyline points="364.5,1027.5 367.5,1030.5 372.5,1024.5" fill="none" stroke="#fff" stroke-width="1.8"/>
<rect x="188" y="1106" width="21" height="8" rx="4" fill="#a8c5fb"/><circle cx="204" cy="1110" r="5" fill="#2f6ff5"/>
<rect x="273" y="1104" width="21" height="12" rx="6" fill="#2f6ff5"/><circle cx="288" cy="1110" r="4" fill="#fff"/>
<line x1="349" y1="1110" x2="362" y2="1110" stroke="#2f6ff5" stroke-width="3" stroke-linecap="round"/><line x1="370" y1="1110" x2="388" y2="1110" stroke="#ddd" stroke-width="3" stroke-linecap="round"/><circle cx="366" cy="1110" r="4" fill="#fff" stroke="#2f6ff5" stroke-width="1.5"/>
<polygon points="209,1306 213,1306 211,1309" fill="#444"/>
<rect x="274" y="1310" width="19" height="15" rx="1" fill="#ddd"/>
<rect x="355" y="1309" width="27" height="9" fill="#dbe7fd"/><line x1="361" y1="1313.5" x2="375" y2="1313.5" stroke="#2f6ff5" stroke-width="2"/><line x1="361" y1="1306" x2="375" y2="1306" stroke="#ddd"/><line x1="361" y1="1322" x2="375" y2="1322" stroke="#ddd"/>
<polygon points="192,1390 195,1392 192,1394" fill="#444"/><rect x="200" y="1393" width="13" height="6" fill="#dbe7fd"/><line x1="203" y1="1396" x2="210" y2="1396" stroke="#2f6ff5" stroke-width="2"/>
<rect x="277" y="1392" width="13" height="9" fill="#dbe7fd"/><line x1="280" y1="1396.5" x2="287" y2="1396.5" stroke="#2f6ff5" stroke-width="2"/>
<rect x="355" y="1387" width="27" height="6" fill="#dbe7fd"/><line x1="364" y1="1390" x2="378" y2="1390" stroke="#2f6ff5" stroke-width="2"/>
<rect x="1597" y="196" width="13" height="16" rx="3" fill="#3b5cf5"/><path d="M1601,209 l3,-10 h2 l-3,10 z" fill="#fff"/>
<circle cx="396" cy="199" r="2.5" fill="#22c55e"/>
<g fill="none" stroke="#555" stroke-width="1.1"><polyline points="2615,416.5 2618,419.5 2621,416.5"/><polyline points="2610,490.5 2613,493.5 2616,490.5"/>
<rect x="2748" y="562" width="13" height="10" rx="1"/><line x1="2754.5" y1="562" x2="2754.5" y2="572"/>
<line x1="2775" y1="567" x2="2786" y2="567"/><line x1="2780.5" y1="561.5" x2="2780.5" y2="572.5"/>
<line x1="2775" y1="722" x2="2787" y2="722"/><line x1="2781" y1="716" x2="2781" y2="728"/></g>
<polyline points="2559,521.5 2561.5,524 2565.5,519" fill="none" stroke="#fff" stroke-width="1.4"/>
</svg>
<!-- widget inline texts (above icons) -->
<div class="t" style="left:181px;top:571.5px;width:34px;text-align:center;font-size:10px;color:#2f6ff5">Btn</div>
<div class="t" style="left:266px;top:571.5px;width:35px;text-align:center;font-size:10px;color:#fff">Btn</div>
<div class="t" style="left:180px;top:942.5px;font-size:8px;color:#555">Text |</div>
<div class="t" style="left:265px;top:941.5px;font-size:8px;color:#555">Text |</div>
<!-- panel bottom cover -->
<div class="a" style="left:147px;top:1432px;width:290px;height:18px;background:#fff"></div>
<div class="a" style="left:146px;top:1431px;width:291px;height:1px;background:#e3e3e3"></div>
</div>
</body></html>
